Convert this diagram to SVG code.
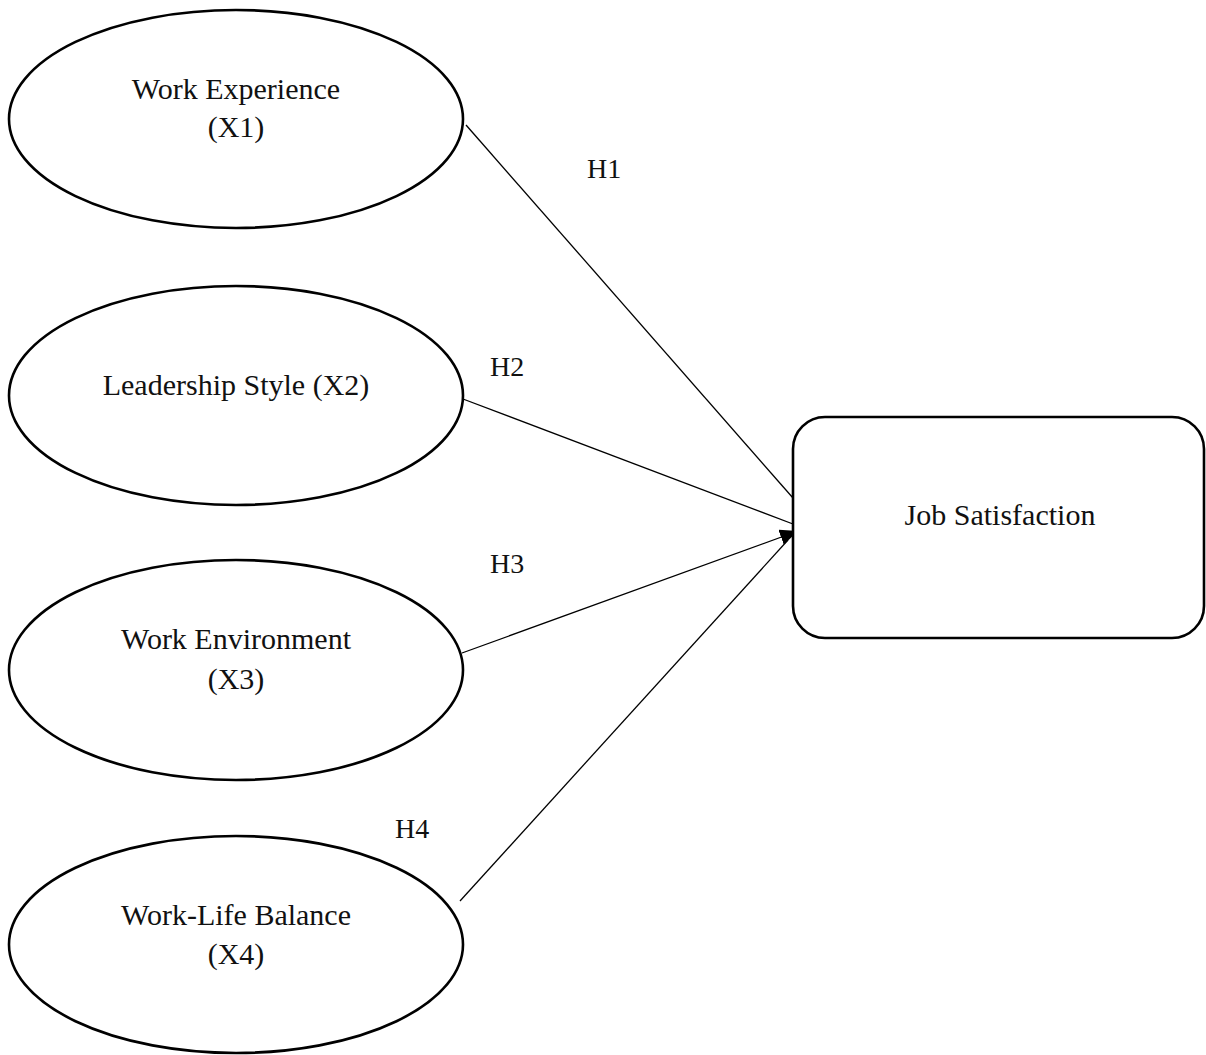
<svg xmlns="http://www.w3.org/2000/svg" width="1206" height="1055" viewBox="0 0 1206 1055">
<style>
.node{fill:#fff;stroke:#000;stroke-width:2.6}
.lbl{font-family:"Liberation Serif","Times New Roman",serif;font-size:30px;fill:#111;text-anchor:middle}
.h{font-family:"Liberation Serif","Times New Roman",serif;font-size:28px;fill:#111}
.edge{stroke:#000;stroke-width:1.3;fill:none}
</style>
<defs>
<marker id="arr" markerUnits="userSpaceOnUse" markerWidth="20" markerHeight="16" refX="18" refY="8" orient="auto">
<path d="M0,0 L18,8 L0,16 Z" fill="#000"/>
</marker>
</defs>
<rect width="1206" height="1055" fill="#fff"/>
<g id="connectors">
<line class="edge" x1="466" y1="125" x2="793" y2="498"/>
<line class="edge" x1="463" y1="399" x2="793" y2="524"/>
<line class="edge" x1="462" y1="653" x2="798" y2="531" marker-end="url(#arr)"/>
<line class="edge" x1="460" y1="901" x2="788" y2="540"/>
<text class="h" x="587" y="178">H1</text>
<text class="h" x="490" y="376">H2</text>
<text class="h" x="490" y="573">H3</text>
<text class="h" x="395" y="838">H4</text>
</g>
<g id="x1">
<ellipse class="node" cx="236" cy="119" rx="227" ry="109"/>
<text class="lbl" x="236" y="99">Work Experience</text>
<text class="lbl" x="236" y="137">(X1)</text>
</g>
<g id="x2">
<ellipse class="node" cx="236" cy="395.5" rx="227" ry="109.5"/>
<text class="lbl" x="236" y="395">Leadership Style (X2)</text>
</g>
<g id="x3">
<ellipse class="node" cx="236" cy="670" rx="227" ry="110"/>
<text class="lbl" x="236" y="649">Work Environment</text>
<text class="lbl" x="236" y="689">(X3)</text>
</g>
<g id="x4">
<ellipse class="node" cx="236" cy="944.5" rx="227" ry="108.5"/>
<text class="lbl" x="236" y="925">Work-Life Balance</text>
<text class="lbl" x="236" y="964">(X4)</text>
</g>
<g id="y">
<rect class="node" x="793" y="417" width="411" height="221" rx="32" ry="32"/>
<text class="lbl" x="1000" y="525">Job Satisfaction</text>
</g>
</svg>
